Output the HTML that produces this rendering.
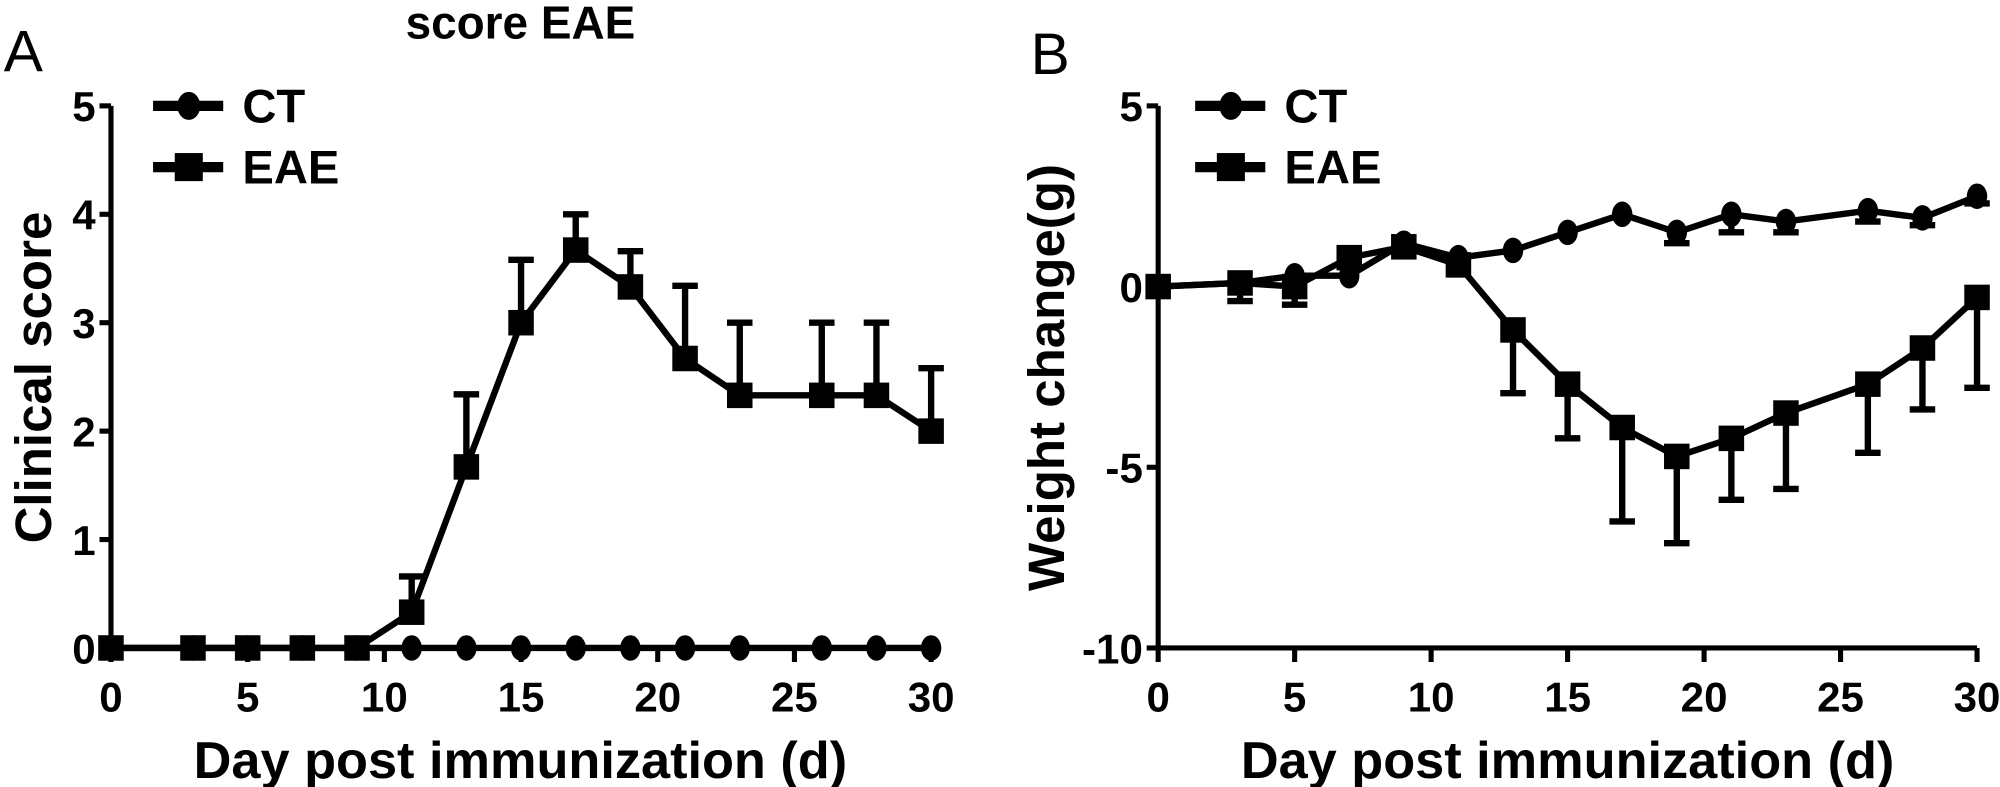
<!DOCTYPE html>
<html><head><meta charset="utf-8"><style>
body{margin:0;background:#fff}
svg{display:block;font-family:"Liberation Sans",Arial,sans-serif}
</style></head><body>
<svg id="c" width="2000" height="787" viewBox="0 0 1568 617" preserveAspectRatio="none">
<text x="3" y="56" font-size="46">A</text>
<text x="408" y="30" font-size="36" font-weight="bold" text-anchor="middle">score EAE</text>
<text x="808" y="58" font-size="46">B</text>
<text transform="translate(40,296) rotate(-90)" font-size="40" font-weight="bold" text-anchor="middle">Clinical score</text>
<text x="408" y="610" font-size="41" font-weight="bold" text-anchor="middle">Day post immunization (d)</text>
<text transform="translate(834,296) rotate(-90)" font-size="40" font-weight="bold" text-anchor="middle">Weight change(g)</text>
<text x="1229" y="610" font-size="41" font-weight="bold" text-anchor="middle">Day post immunization (d)</text>
</svg>
<script>
const days=[0,3,5,7,9,11,13,15,17,19,21,23,26,28,30];
const xTicks=[0,5,10,15,20,25,30];
const aCT=[0,0,0,0,0,0,0,0,0,0,0,0,0,0,0];
const aEAE=[0,0,0,0,0,0.33,1.67,3,3.67,3.33,2.67,2.33,2.33,2.33,2.0];
const aEAEerr=[0,0,0,0,0,0.33,0.67,0.58,0.33,0.33,0.67,0.67,0.67,0.67,0.58];
const aYTicks=[0,1,2,3,4,5];
const bCT=[0,0.1,0.3,0.3,1.2,0.8,1.0,1.5,2.0,1.5,2.0,1.8,2.1,1.9,2.5];
const bCTerr=[0,0,0,0,0,0,0,0,0,0.3,0.5,0.3,0.3,0.2,0.2];
const bEAE=[0,0.1,0,0.8,1.1,0.6,-1.2,-2.7,-3.9,-4.7,-4.2,-3.5,-2.7,-1.7,-0.3];
const bEAEerr=[0,0.5,0.5,0,0,0,1.75,1.5,2.6,2.4,1.7,2.1,1.9,1.7,2.5];
const bYTicks=[-10,-5,0,5];
const svg=document.getElementById('c');
const NS='http://www.w3.org/2000/svg';
function mk(t,a,p){const e=document.createElementNS(NS,t);for(const k in a)e.setAttribute(k,a[k]);(p||svg).appendChild(e);return e;}
function panel(id,x0,x1,ymin,ymax,yTop,yBot,yTicks,series,legX){
  const g=mk('g',{});
  
  
  const sx=d=>x0+(d-0)/30*(x1-x0);
  const sy=v=>yBot-(v-ymin)/(ymax-ymin)*(yBot-yTop);
  const ax=mk('path',{d:`M${x0},${yTop} V${yBot} H${x1}`,stroke:'#000','stroke-width':4,fill:'none'},g);
  
  
  yTicks.forEach(t=>{
    mk('line',{x1:x0-9,x2:x0,y1:sy(t),y2:sy(t),stroke:'#000','stroke-width':4},g);
    const tx=mk('text',{x:x0-12,y:sy(t)+12,'font-size':33,'font-weight':'bold','text-anchor':'end'},g);
    tx.textContent=t;
    
    
  });
  xTicks.forEach(t=>{
    mk('line',{x1:sx(t),x2:sx(t),y1:yBot,y2:yBot+11,stroke:'#000','stroke-width':4},g);
    const tx=mk('text',{x:sx(t),y:yBot+50,'font-size':33,'font-weight':'bold','text-anchor':'middle'},g);
    tx.textContent=t;
    
    
  });
  series.forEach(s=>{
    const sg=mk('g',{},g);
    
    
    s.vals.forEach((v,i)=>{
      const e=s.err[i]; if(!e) return;
      const y2=sy(v+s.dir*e);
      mk('line',{x1:sx(days[i]),x2:sx(days[i]),y1:sy(v),y2:y2,stroke:'#000','stroke-width':5},sg);
      mk('line',{x1:sx(days[i])-10,x2:sx(days[i])+10,y1:y2,y2:y2,stroke:'#000','stroke-width':5},sg);
    });
    mk('polyline',{points:s.vals.map((v,i)=>sx(days[i])+','+sy(v)).join(' '),fill:'none',stroke:'#000','stroke-width':5,'stroke-linejoin':'round'},sg);
    s.vals.forEach((v,i)=>{
      let m;
      if(s.shape==='sq') m=mk('rect',{x:sx(days[i])-10,y:sy(v)-10,width:20,height:20,fill:'#000'},sg);
      else m=mk('ellipse',{cx:sx(days[i]),cy:sy(v),rx:8,ry:10,fill:'#000'},sg);
      
      
    });
  });
  [['CT','ci',83],['EAE','sq',131]].forEach(([n,sh,y])=>{
    const lg=mk('g',{},g);
    
    
    mk('line',{x1:legX,x2:legX+55,y1:y,y2:y,stroke:'#000','stroke-width':8},lg);
    if(sh==='sq') mk('rect',{x:legX+17,y:y-11,width:22,height:22,fill:'#000'},lg);
    else mk('ellipse',{cx:legX+28,cy:y,rx:9,ry:11,fill:'#000'},lg);
    const t=mk('text',{x:legX+70,y:y+13,'font-size':37,'font-weight':'bold'},lg);
    t.textContent=n;
  });
}
panel('panel-a-chart',87,730,0,5,83,508,aYTicks,[
  {name:'CT',vals:aCT,err:aCT.map(()=>0),dir:1,shape:'ci'},
  {name:'EAE',vals:aEAE,err:aEAEerr,dir:1,shape:'sq'}],120);
panel('panel-b-chart',908,1550,-10,5,83,508,bYTicks,[
  {name:'CT',vals:bCT,err:bCTerr,dir:-1,shape:'ci'},
  {name:'EAE',vals:bEAE,err:bEAEerr,dir:-1,shape:'sq'}],937);
</script>
</body></html>
